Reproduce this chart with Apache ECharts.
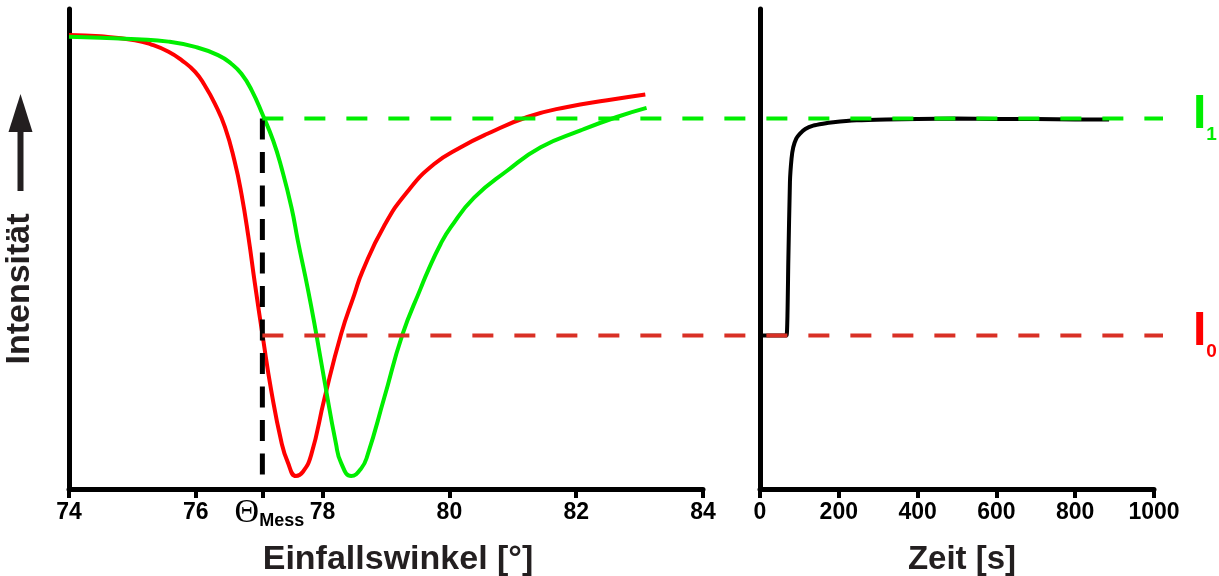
<!DOCTYPE html>
<html>
<head>
<meta charset="utf-8">
<title>Intensität / Einfallswinkel</title>
<script src="https://cdn.jsdelivr.net/npm/echarts@6.0.0/dist/echarts.min.js"></script>
<style>
  html, body { margin: 0; padding: 0; background: #fff; }
  #chart { width: 1219px; height: 576px; }
</style>
</head>
<body>
<div id="chart"></div>
<script>
// Resonanzkurven: Winkel [°] und Intensität (willk. Einheiten, 0..100)
const redAngle = [74.0, 74.5, 75.04, 75.3, 75.57, 75.78, 75.99, 76.14, 76.30, 76.46, 76.61, 76.72, 76.83, 76.93, 77.06, 77.19, 77.35, 77.45, 77.58, 77.69, 77.82, 78.03, 78.29, 78.50, 78.63, 78.97, 79.34, 79.76, 80.18, 80.60, 81.23, 81.86, 82.49, 83.09];
const redIntensity = [94.6, 94.3, 93.5, 92.6, 91.1, 89.3, 86.9, 84.1, 80.3, 75.4, 68.4, 61.5, 52.5, 43.0, 31.4, 20.5, 9.8, 5.6, 2.7, 3.6, 7.1, 18.9, 32.2, 40.5, 45.4, 54.8, 62.0, 67.7, 71.2, 74.0, 77.5, 79.6, 81.0, 82.2];

const greenAngle = [74.0, 74.5, 75.07, 75.57, 75.99, 76.35, 76.56, 76.72, 76.88, 77.06, 77.22, 77.35, 77.51, 77.61, 77.77, 77.90, 78.03, 78.21, 78.29, 78.45, 78.61, 78.71, 78.97, 79.26, 79.55, 79.66, 79.86, 80.02, 80.39, 80.91, 81.44, 82.07, 82.64, 83.11];
const greenIntensity = [94.2, 94.0, 93.7, 93.2, 92.1, 90.4, 88.6, 86.5, 83.1, 77.8, 72.6, 67.0, 58.6, 51.7, 41.5, 32.3, 22.5, 9.5, 5.5, 2.7, 4.3, 7.1, 18.9, 32.2, 41.9, 45.4, 51.0, 54.5, 60.7, 66.3, 71.2, 74.7, 77.5, 79.4];

// Kinetik bei festem Winkel
const time = [0, 30, 60, 67.5, 72, 76, 80, 84.4, 92, 101, 115, 135, 160, 186, 245, 320, 400, 500, 600, 700, 800, 886];
const signal = [32, 32, 32, 32, 48, 64, 68.8, 71.2, 73, 74, 75, 75.7, 76.1, 76.4, 76.8, 77.0, 77.1, 77.2, 77.1, 77.1, 77.0, 77.0];

const thetaMess = 77.05;
const levelI0 = 32;
const levelI1 = 77.2;

const angleTicks = [74, 76, thetaMess, 78, 80, 82, 84];
const timeMax = 1000;

const FONT = "'Liberation Sans', Arial, sans-serif";

// overlay grid for the reference lines running across both panels
const gridL = { left: 69, right: 516, top: 9, bottom: 87 };
const gridR = { left: 760, right: 65, top: 9, bottom: 87 };
const gridO = { left: 69, right: 56, top: 9, bottom: 87 };
const overlayMax = 74 + 10 * (1219 - gridO.left - gridO.right) / (1219 - gridL.left - gridL.right);

const zip = (a, b) => a.map((v, i) => [v, b[i]]);

const chart = echarts.init(document.getElementById('chart'));

const axisLineStyle = { color: '#000', width: 5 };
const tickLabel = { fontFamily: FONT, fontSize: 23, fontWeight: 'bold', color: '#000', margin: 12 };
const nameStyle = { fontFamily: FONT, fontWeight: 'bold', color: '#231f20' };

function levelLabel(sub, color) {
  return {
    show: true, distance: 30, offset: [0, 2],
    formatter: '{i|I}{s|' + sub + '}',
    rich: {
      i: { fontFamily: FONT, fontSize: 48, fontWeight: 'bold', color: color, lineHeight: 48, padding: [0, 0, 6, 0], verticalAlign: 'bottom' },
      s: { fontFamily: FONT, fontSize: 19, fontWeight: 'bold', color: color, lineHeight: 19, verticalAlign: 'bottom' }
    }
  };
}

const option = {
  animation: false,
  backgroundColor: '#fff',
  grid: [
    Object.assign({ outerBoundsMode: 'none' }, gridL),
    Object.assign({ outerBoundsMode: 'none' }, gridR),
    Object.assign({ outerBoundsMode: 'none' }, gridO)
  ],
  xAxis: [
    {
      gridIndex: 0, type: 'value', min: 74, max: 84, interval: 2,
      axisLine: { onZero: false, lineStyle: axisLineStyle },
      axisTick: { customValues: angleTicks, length: 9, lineStyle: { color: '#000', width: 4 } },
      axisLabel: Object.assign({}, tickLabel, {
        customValues: angleTicks,
        formatter: v => Math.abs(v - thetaMess) < 1e-6 ? '{t|Θ}{m|Mess}' : String(v),
        rich: {
          t: { fontFamily: "'Liberation Serif', serif", fontSize: 34, fontWeight: 'normal', color: '#000', lineHeight: 29, padding: [0, 0, 0, 14], verticalAlign: 'bottom' },
          m: { fontFamily: FONT, fontSize: 18, fontWeight: 'bold', color: '#000', lineHeight: 29, verticalAlign: 'bottom' }
        }
      }),
      splitLine: { show: false },
      name: 'Einfallswinkel [°]', nameLocation: 'middle', nameGap: 54,
      nameTextStyle: Object.assign({ fontSize: 34, padding: [0, 0, 0, 24] }, nameStyle)
    },
    {
      gridIndex: 1, type: 'value', min: 0, max: timeMax, interval: 200,
      axisLine: { onZero: false, lineStyle: axisLineStyle },
      axisTick: { length: 9, lineStyle: { color: '#000', width: 4 } },
      axisLabel: Object.assign({ formatter: v => String(v) }, tickLabel),
      splitLine: { show: false },
      name: 'Zeit [s]', nameLocation: 'middle', nameGap: 54,
      nameTextStyle: Object.assign({ fontSize: 33, padding: [0, 0, 0, 10] }, nameStyle)
    },
    { gridIndex: 2, type: 'value', min: 74, max: overlayMax, show: false }
  ],
  yAxis: [
    {
      gridIndex: 0, type: 'value', min: 0, max: 100,
      axisLine: { show: true, onZero: false, lineStyle: axisLineStyle },
      axisTick: { show: false }, axisLabel: { show: false }, splitLine: { show: false }
    },
    {
      gridIndex: 1, type: 'value', min: 0, max: 100,
      axisLine: { show: true, onZero: false, lineStyle: axisLineStyle },
      axisTick: { show: false }, axisLabel: { show: false }, splitLine: { show: false }
    },
    { gridIndex: 2, type: 'value', min: 0, max: 100, show: false }
  ],
  series: [
    {
      name: 'vorher', type: 'line', xAxisIndex: 0, yAxisIndex: 0,
      data: zip(redAngle, redIntensity), symbol: 'none', smooth: 0.5,
      lineStyle: { color: '#ff0000', width: 4 }, z: 2
    },
    {
      name: 'nachher', type: 'line', xAxisIndex: 0, yAxisIndex: 0,
      data: zip(greenAngle, greenIntensity), symbol: 'none', smooth: 0.5,
      lineStyle: { color: '#00ee00', width: 4 }, z: 3
    },
    {
      name: 'Kinetik', type: 'line', xAxisIndex: 1, yAxisIndex: 1,
      data: zip(time, signal), symbol: 'none', smooth: 0.2,
      lineStyle: { color: '#000', width: 4 }, z: 2
    },
    {
      name: 'Θ Mess', type: 'line', xAxisIndex: 0, yAxisIndex: 0,
      data: [[thetaMess, levelI1], [thetaMess, 0]], symbol: 'none',
      lineStyle: { color: '#000', width: 5, type: [21, 12.5] }, z: 4
    },
    {
      name: 'I1', type: 'line', xAxisIndex: 2, yAxisIndex: 2,
      data: [[thetaMess, levelI1], [overlayMax, levelI1]], symbol: 'none',
      lineStyle: { color: '#00ee00', width: 4, type: [21, 21] }, z: 5,
      endLabel: levelLabel('1', '#00ee00')
    },
    {
      name: 'I0', type: 'line', xAxisIndex: 2, yAxisIndex: 2,
      data: [[thetaMess, levelI0], [overlayMax, levelI0]], symbol: 'none',
      lineStyle: { color: '#d93025', width: 4, type: [21, 21] }, z: 5,
      endLabel: levelLabel('0', '#ff0000')
    }
  ],
  graphic: [
    {
      type: 'text', x: 20, y: 289, rotation: Math.PI / 2,
      style: { text: 'Intensität', fontFamily: FONT, fontSize: 34, fontWeight: 'bold', fill: '#231f20', align: 'center', verticalAlign: 'middle' }
    },
    {
      type: 'polygon',
      shape: { points: [[20.5, 94], [8.5, 132], [32.5, 132]] },
      style: { fill: '#231f20' }
    },
    {
      type: 'rect',
      shape: { x: 17.5, y: 128, width: 6, height: 63 },
      style: { fill: '#231f20' }
    }
  ]
};

chart.setOption(option);
</script>
</body>
</html>
